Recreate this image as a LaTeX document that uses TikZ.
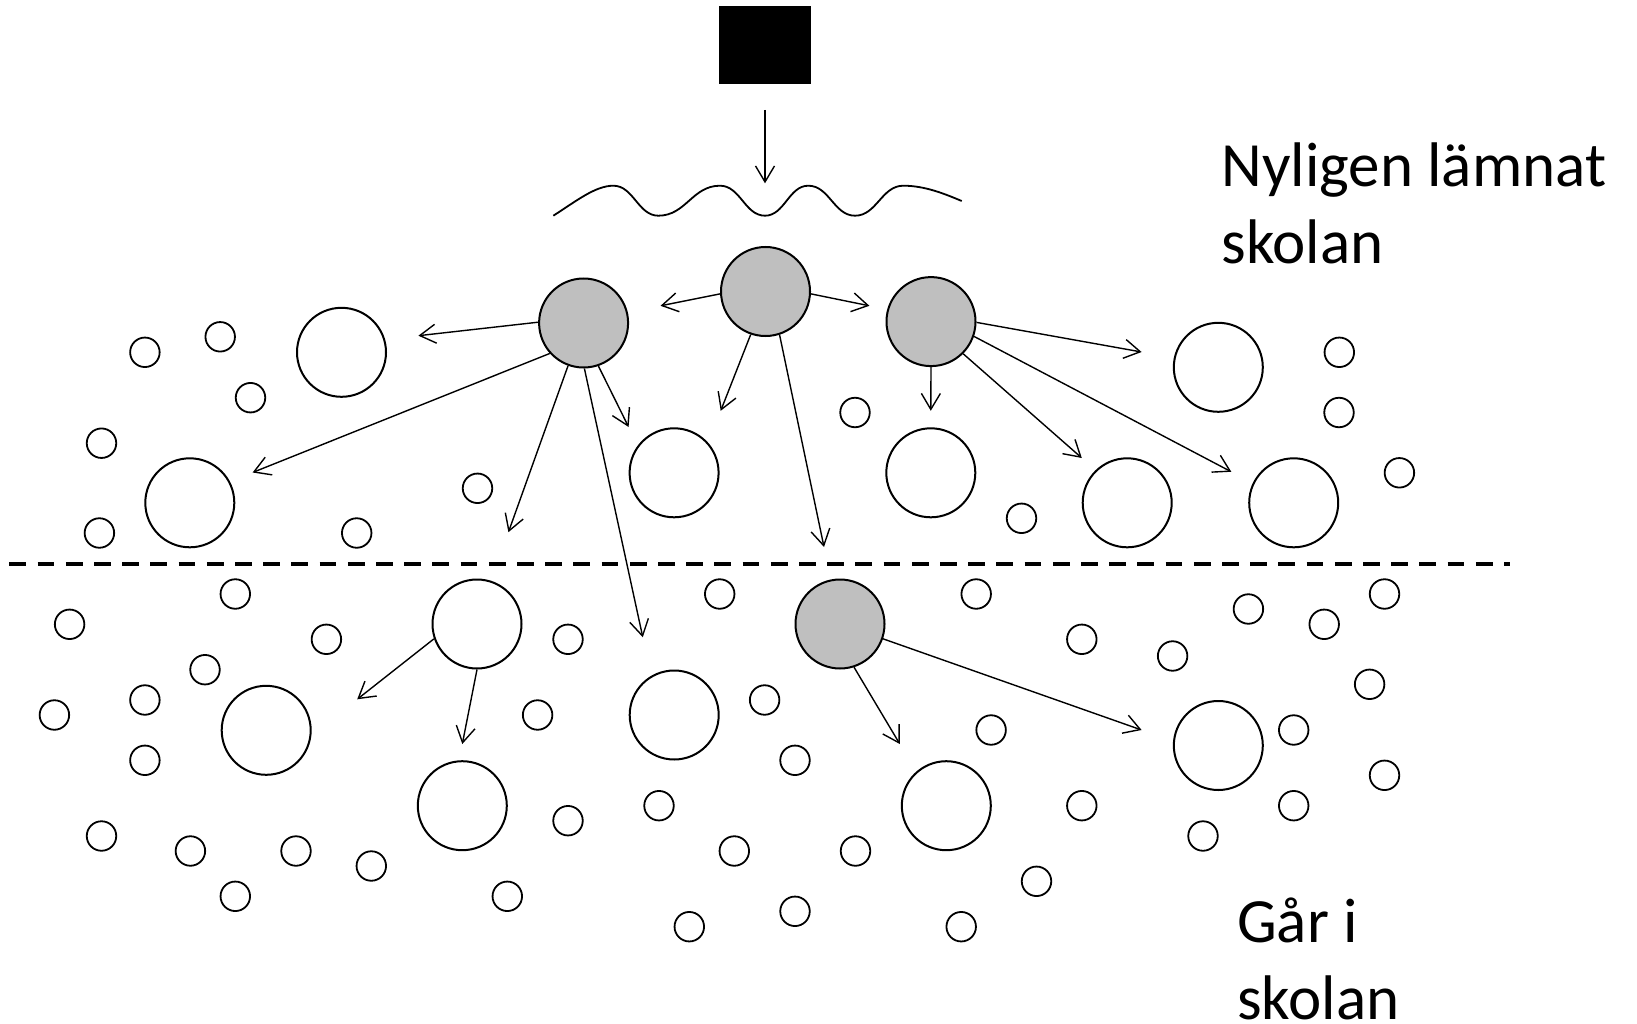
\documentclass[tikz,border=0pt]{standalone}
\usepackage{fontspec}
\setmainfont{Carlito}
\usetikzlibrary{arrows.meta}
\begin{document}
\begin{tikzpicture}[x=1pt,y=-1pt,
  big/.style={circle,draw=black,line width=2pt,minimum size=89pt,inner sep=0pt,fill=white},
  small/.style={circle,draw=black,line width=1.8pt,minimum size=29.5pt,inner sep=0pt},
  grayb/.style={big,fill=black!25},
  arr/.style={line width=1.4pt,-{Straight Barb[length=16pt,width=19pt,line width=1.4pt]}},
  lbl/.style={font=\fontsize{63}{76.5}\selectfont,align=left,anchor=base west,inner sep=0pt}]
\useasboundingbox (0,0) rectangle (1637,1024);

% source block
\node[fill=black,minimum width=92pt,minimum height=77.5pt,inner sep=0pt] (sq) at (765,45) {};
\coordinate (wv) at (765,183.3);
\draw[arr,shorten <=26pt] (sq.south) -- (wv);

% wave
\draw[line width=1.8pt] (553.3,215.7) .. controls (575,202) and (595,185.7) .. (613.3,185.7)
  .. controls (633.5,185.7) and (638.1,215.7) .. (658.3,215.7)
  .. controls (686,215.7) and (692.2,185.7) .. (720,185.7)
  .. controls (740.3,185.7) and (744.8,215.7) .. (765,215.7)
  .. controls (784.5,215.7) and (788.8,185.7) .. (808.3,185.7)
  .. controls (829.3,185.7) and (834,215.7) .. (855,215.7)
  .. controls (876.7,215.7) and (881.6,185.7) .. (903.3,185.7)
  .. controls (925,185.7) and (945,194) .. (961.7,201);

% dashed separator
\coordinate (dl) at (9.4,563.5);
\coordinate (dr) at (1510,563.5);
\draw[line width=4pt,dash pattern=on 16.7pt off 11.5pt] (dl) -- (dr);

% gray circles
\node[grayb] (G1) at (583.6,323) {};
\node[grayb] (G2) at (765.5,291.5) {};
\node[grayb] (G3) at (931,321.6) {};
\node[grayb] (G4) at (840,624) {};

% white big circles
\node[big] (W1) at (341.5,352.3) {};
\node[big] (W2) at (189.8,502.8) {};
\node[big] (W3) at (674.1,472.8) {};
\node[big] (W4) at (930.8,472.8) {};
\node[big] (W5) at (1127.2,502.8) {};
\node[big] (W6) at (1293.7,502.8) {};
\node[big] (W7) at (1218.3,367.3) {};
\node[big] (L1) at (477,624) {};
\node[big] (L2) at (266.2,730.3) {};
\node[big] (L3) at (462.3,805.7) {};
\node[big] (L4) at (674.2,715) {};
\node[big] (L5) at (946.3,805.7) {};
\node[big] (L6) at (1218.3,745.5) {};

% small circles, upper
\node[small] (s1) at (144.9,352.3) {};
\node[small] (s2) at (220.2,336.8) {};
\node[small] (s3) at (250.5,397.7) {};
\node[small] (s4) at (101.5,443.2) {};
\node[small] (s5) at (99.4,533) {};
\node[small] (s6) at (477.5,488.3) {};
\node[small] (s7) at (356.7,533) {};
\node[small] (s8) at (855,412.5) {};
\node[small] (s9) at (1339.3,352.3) {};
\node[small] (s10) at (1339,412.5) {};
\node[small] (s11) at (1399.4,472.8) {};
\node[small] (s12) at (1021.5,518.3) {};

% small circles, lower
\node[small] (s13) at (235.3,594) {};
\node[small] (s14) at (69.6,624.3) {};
\node[small] (s15) at (326.4,639.3) {};
\node[small] (s16) at (205,669.7) {};
\node[small] (s17) at (144.9,700) {};
\node[small] (s18) at (54.4,715) {};
\node[small] (s19) at (144.9,760.3) {};
\node[small] (s20) at (568,639.3) {};
\node[small] (s21) at (537.6,715) {};
\node[small] (s22) at (719.7,594) {};
\node[small] (s23) at (764.6,700) {};
\node[small] (s24) at (795,760.3) {};
\node[small] (s25) at (659,805.7) {};
\node[small] (s26) at (568,820.7) {};
\node[small] (s27) at (101.5,836) {};
\node[small] (s28) at (190.4,851) {};
\node[small] (s29) at (296,851) {};
\node[small] (s30) at (371.3,866) {};
\node[small] (s31) at (235.3,896.3) {};
\node[small] (s32) at (507.3,896.3) {};
\node[small] (s33) at (734.3,851) {};
\node[small] (s34) at (689.3,926.7) {};
\node[small] (s35) at (795,911.3) {};
\node[small] (s36) at (976.2,594) {};
\node[small] (s37) at (1081.8,639.3) {};
\node[small] (s38) at (1172.6,656) {};
\node[small] (s39) at (1248.4,609) {};
\node[small] (s40) at (1324.2,624.3) {};
\node[small] (s41) at (1384.5,594) {};
\node[small] (s42) at (1369.6,684.3) {};
\node[small] (s43) at (991.1,730) {};
\node[small] (s44) at (1293.7,730) {};
\node[small] (s45) at (1384.5,775.3) {};
\node[small] (s46) at (1293.7,805.7) {};
\node[small] (s47) at (1203,836) {};
\node[small] (s48) at (1081.8,805.7) {};
\node[small] (s49) at (855.5,851) {};
\node[small] (s50) at (1036.5,881.3) {};
\node[small] (s51) at (961.2,926.7) {};

% arrow tips
\coordinate (a1) at (418.4,335.7);
\coordinate (a2) at (252.6,472.5);
\coordinate (a3) at (508.4,532.2);
\coordinate (a4) at (642.8,637.3);
\coordinate (a5) at (628.6,427);
\coordinate (b1) at (660.5,305.8);
\coordinate (b2) at (720.7,410.8);
\coordinate (b3) at (824,547);
\coordinate (b4) at (869.4,305.8);
\coordinate (c1) at (930.8,410.8);
\coordinate (c2) at (1141.6,352);
\coordinate (c3) at (1231.3,471.8);
\coordinate (c4) at (1081.8,458);
\coordinate (d1) at (357.2,699.3);
\coordinate (d2) at (462.3,744);
\coordinate (e1) at (899.8,744);
\coordinate (e2) at (1141.6,730);

% arrows
\draw[arr] (G1.179) -- (a1);
\draw[arr] (G1.222.5) -- (a2);
\draw[arr] (G1.250) -- (a3);
\draw[arr] (G1.271) -- (a4);
\draw[arr] (G1.289) -- (a5);
\draw[arr] (G2.183) -- (b1);
\draw[arr] (G2.251) -- (b2);
\draw[arr] (G2.288) -- (b3);
\draw[arr] (G2.357) -- (b4);
\draw[arr] (G3.270) -- (c1);
\draw[arr] (G3.359) -- (c2);
\draw[arr] (G3.341) -- (c3);
\draw[arr] (G3.315.4) -- (c4);
\draw[arr] (L1.199.2) -- (d1);
\draw[arr] (L1.270) -- (d2);
\draw[arr] (G4.288.6) -- (e1);
\draw[arr] (G4.341.4) -- (e2);

% labels (base anchor = baseline of the last line)
\node[lbl] (t1) at (1221.3,263.3) {Nyligen lämnat\\skolan};
\node[lbl] (t2) at (1237,1019) {Går i\\skolan};
\end{tikzpicture}
\end{document}
